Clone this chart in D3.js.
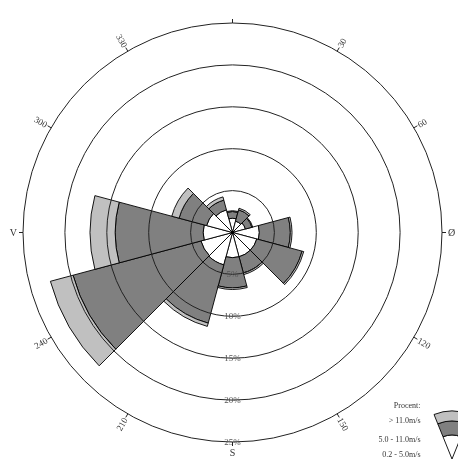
<!DOCTYPE html>
<html>
<head>
<meta charset="utf-8">
<script src="https://cdn.jsdelivr.net/npm/d3@7"></script>
<style>
  html, body { margin: 0; padding: 0; background: #fff; }
  svg { display: block; filter: grayscale(1); }
</style>
</head>
<body>
<svg id="rose" width="458" height="459"></svg>
<script>
// Wind direction sectors (degrees, centre of each 30° sector)
const directions = [0, 30, 60, 90, 120, 150, 180, 210, 240, 270, 300, 330];
// Frequency (%) per speed class and direction
const calmSpeed  = [1.7, 1.4, 1.6, 3.2, 3.0, 3.0, 3.0, 4.0, 3.9, 3.5, 3.2, 2.8];   // 0.2 - 5.0 m/s
const midSpeed   = [0.8, 1.4, 0.8, 3.7, 5.6, 2.0, 3.6, 7.2, 15.8, 10.5, 3.4, 1.2]; // 5.0 - 11.0 m/s
const highSpeed  = [0.1, 0.2, 0.1, 0.2, 0.2, 0.2, 0.2, 0.4, 2.8, 3.0, 0.9, 0.4];   // > 11.0 m/s
const speedClasses = ["0.2 - 5.0m/s", "5.0 - 11.0m/s", "> 11.0m/s"];
const classColors = ["#ffffff", "#808080", "#c0c0c0"];
// Grid rings (%)
const ringValues = [5, 10, 15, 20, 25];
// Compass tick labels
const tickAngles = [0, 30, 60, 90, 120, 150, 180, 210, 240, 270, 300, 330];
const tickLabels = ["", "30", "60", "Ø", "120", "150", "S", "210", "240", "V", "300", "330"];

const svg = d3.select("#rose");
const cx = 232.5, cy = 232.5, R = 209.5;
const sectorWidth = 30;
const rad = d => d * Math.PI / 180;

const r = d3.scaleLinear().domain([0, 25]).range([0, R]);

const g = svg.append("g").attr("transform", `translate(${cx},${cy})`);

// Stack the three speed classes per direction
const table = directions.map((dir, i) => ({
  dir, calm: calmSpeed[i], mid: midSpeed[i], high: highSpeed[i]
}));
const stacked = d3.stack().keys(["calm", "mid", "high"])(table);

const arc = d3.arc();

stacked.forEach((layer, k) => {
  g.append("g").selectAll("path")
    .data(layer)
    .join("path")
    .attr("d", d => arc({
      innerRadius: r(d[0]),
      outerRadius: r(d[1]),
      startAngle: rad(d.data.dir - sectorWidth / 2),
      endAngle: rad(d.data.dir + sectorWidth / 2)
    }))
    .attr("fill", classColors[k])
    .attr("stroke", "#000")
    .attr("stroke-width", 0.9)
    .attr("stroke-linejoin", "miter");
});

// Grid rings over the bars
g.append("g").selectAll("circle")
  .data(ringValues)
  .join("circle")
  .attr("r", d => r(d))
  .attr("fill", "none")
  .attr("stroke", "#222")
  .attr("stroke-width", 1);

// centre point
g.append("circle").attr("r", 1.8).attr("fill", "#000");

// Ring labels along the south axis
g.append("g").selectAll("text")
  .data(ringValues)
  .join("text")
  .attr("x", 0)
  .attr("y", d => r(d))
  .attr("dy", "0.32em")
  .attr("text-anchor", "middle")
  .attr("font-family", "Liberation Serif, serif")
  .attr("font-size", 9)
  .attr("fill", "#555")
  .text(d => d + "%");

// Compass ticks
g.append("g").selectAll("line")
  .data(tickAngles)
  .join("line")
  .attr("x1", d => R * Math.sin(rad(d)))
  .attr("y1", d => -R * Math.cos(rad(d)))
  .attr("x2", d => (R + 4) * Math.sin(rad(d)))
  .attr("y2", d => -(R + 4) * Math.cos(rad(d)))
  .attr("stroke", "#222")
  .attr("stroke-width", 1);

// Compass labels: cardinals upright, the rest along the radius
const labelG = g.append("g")
  .attr("font-family", "Liberation Serif, serif")
  .attr("fill", "#333");
tickAngles.forEach((a, i) => {
  const txt = tickLabels[i];
  if (!txt) return;
  const cardinal = a % 90 === 0;
  const lr = R + 5;
  const x = lr * Math.sin(rad(a)), y = -lr * Math.cos(rad(a));
  if (cardinal) {
    const t = labelG.append("text").text(txt).attr("font-size", 10);
    if (a === 90) t.attr("x", x + 1).attr("y", y).attr("dy", "0.35em").attr("text-anchor", "start");
    else if (a === 270) t.attr("x", x - 1).attr("y", y).attr("dy", "0.35em").attr("text-anchor", "end");
    else if (a === 180) t.attr("x", x).attr("y", y + 9).attr("text-anchor", "middle");
  } else {
    const right = a < 180;
    labelG.append("text")
      .text(txt)
      .attr("font-size", 9)
      .attr("text-anchor", right ? "start" : "end")
      .attr("dy", "0.35em")
      .attr("transform", `translate(${x},${y}) rotate(${right ? a - 90 : a + 90})`);
  }
});

// Legend
const legend = svg.append("g").attr("font-family", "Liberation Serif, serif").attr("font-size", 8).attr("fill", "#333");
const legendRows = [
  { text: "Procent:", y: 407.5 },
  { text: speedClasses[2], y: 423 },
  { text: speedClasses[1], y: 441.5 },
  { text: speedClasses[0], y: 456.5 }
];
legend.selectAll("text")
  .data(legendRows)
  .join("text")
  .attr("x", 420.5)
  .attr("y", d => d.y)
  .attr("text-anchor", "end")
  .text(d => d.text);

// Legend key: one wedge with the three speed classes stacked
const keyBounds = [0, 24, 38, 48];
const key = svg.append("g").attr("transform", "translate(452,459)");
[0, 1, 2].forEach(k => {
  key.append("path")
    .attr("d", arc({
      innerRadius: keyBounds[k],
      outerRadius: keyBounds[k + 1],
      startAngle: rad(-22),
      endAngle: rad(22)
    }))
    .attr("fill", classColors[k])
    .attr("stroke", "#000")
    .attr("stroke-width", 0.9);
});
</script>
</body>
</html>
